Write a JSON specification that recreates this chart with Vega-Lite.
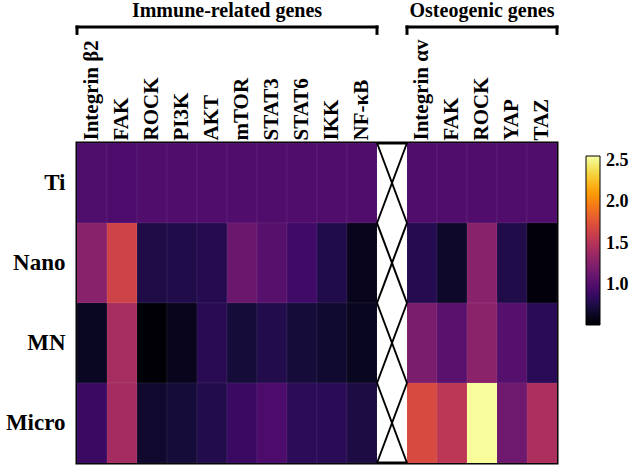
{
  "$schema": "https://vega.github.io/schema/vega-lite/v6.json",
  "width": 480,
  "height": 320,
  "autosize": {"type": "none"},
  "padding": {"left": 77, "top": 143, "right": 76, "bottom": 5},
  "background": "white",
  "config": {
    "view": {"stroke": "black", "strokeWidth": 3},
    "font": "Times New Roman, Liberation Serif, Times, serif"
  },
  "datasets": {
    "cells": [
      {"row": "Ti", "gene": "Integrin β2|i", "value": 0.99},
      {"row": "Ti", "gene": "FAK|i", "value": 0.98},
      {"row": "Ti", "gene": "ROCK|i", "value": 1.0},
      {"row": "Ti", "gene": "PI3K|i", "value": 1.0},
      {"row": "Ti", "gene": "AKT|i", "value": 1.0},
      {"row": "Ti", "gene": "mTOR|i", "value": 1.0},
      {"row": "Ti", "gene": "STAT3|i", "value": 1.0},
      {"row": "Ti", "gene": "STAT6|i", "value": 1.0},
      {"row": "Ti", "gene": "IKK|i", "value": 1.0},
      {"row": "Ti", "gene": "NF-κB|i", "value": 1.0},
      {"row": "Ti", "gene": "Integrin αv|o", "value": 1.0},
      {"row": "Ti", "gene": "FAK|o", "value": 1.0},
      {"row": "Ti", "gene": "ROCK|o", "value": 1.0},
      {"row": "Ti", "gene": "YAP|o", "value": 1.0},
      {"row": "Ti", "gene": "TAZ|o", "value": 1.0},

      {"row": "Nano", "gene": "Integrin β2|i", "value": 1.28},
      {"row": "Nano", "gene": "FAK|i", "value": 1.65},
      {"row": "Nano", "gene": "ROCK|i", "value": 0.765},
      {"row": "Nano", "gene": "PI3K|i", "value": 0.77},
      {"row": "Nano", "gene": "AKT|i", "value": 0.795},
      {"row": "Nano", "gene": "mTOR|i", "value": 1.13},
      {"row": "Nano", "gene": "STAT3|i", "value": 1.04},
      {"row": "Nano", "gene": "STAT6|i", "value": 0.92},
      {"row": "Nano", "gene": "IKK|i", "value": 0.77},
      {"row": "Nano", "gene": "NF-κB|i", "value": 0.62},
      {"row": "Nano", "gene": "Integrin αv|o", "value": 0.795},
      {"row": "Nano", "gene": "FAK|o", "value": 0.67},
      {"row": "Nano", "gene": "ROCK|o", "value": 1.28},
      {"row": "Nano", "gene": "YAP|o", "value": 0.77},
      {"row": "Nano", "gene": "TAZ|o", "value": 0.55},

      {"row": "MN", "gene": "Integrin β2|i", "value": 0.64},
      {"row": "MN", "gene": "FAK|i", "value": 1.43},
      {"row": "MN", "gene": "ROCK|i", "value": 0.53},
      {"row": "MN", "gene": "PI3K|i", "value": 0.62},
      {"row": "MN", "gene": "AKT|i", "value": 0.81},
      {"row": "MN", "gene": "mTOR|i", "value": 0.72},
      {"row": "MN", "gene": "STAT3|i", "value": 0.78},
      {"row": "MN", "gene": "STAT6|i", "value": 0.72},
      {"row": "MN", "gene": "IKK|i", "value": 0.69},
      {"row": "MN", "gene": "NF-κB|i", "value": 0.63},
      {"row": "MN", "gene": "Integrin αv|o", "value": 1.21},
      {"row": "MN", "gene": "FAK|o", "value": 1.05},
      {"row": "MN", "gene": "ROCK|o", "value": 1.29},
      {"row": "MN", "gene": "YAP|o", "value": 1.02},
      {"row": "MN", "gene": "TAZ|o", "value": 0.82},

      {"row": "Micro", "gene": "Integrin β2|i", "value": 0.89},
      {"row": "Micro", "gene": "FAK|i", "value": 1.42},
      {"row": "Micro", "gene": "ROCK|i", "value": 0.68},
      {"row": "Micro", "gene": "PI3K|i", "value": 0.72},
      {"row": "Micro", "gene": "AKT|i", "value": 0.78},
      {"row": "Micro", "gene": "mTOR|i", "value": 0.89},
      {"row": "Micro", "gene": "STAT3|i", "value": 0.98},
      {"row": "Micro", "gene": "STAT6|i", "value": 0.83},
      {"row": "Micro", "gene": "IKK|i", "value": 0.82},
      {"row": "Micro", "gene": "NF-κB|i", "value": 0.75},
      {"row": "Micro", "gene": "Integrin αv|o", "value": 1.7},
      {"row": "Micro", "gene": "FAK|o", "value": 1.54},
      {"row": "Micro", "gene": "ROCK|o", "value": 2.54},
      {"row": "Micro", "gene": "YAP|o", "value": 1.15},
      {"row": "Micro", "gene": "TAZ|o", "value": 1.46}
    ],
    "gap": [
      {"row": "Ti", "gene": "gap"},
      {"row": "Nano", "gene": "gap"},
      {"row": "MN", "gene": "gap"},
      {"row": "Micro", "gene": "gap"}
    ],
    "groups": [
      {"group": "Immune-related genes", "gene": "Integrin β2|i", "last": "NF-κB|i", "mid": "mTOR|i"},
      {"group": "Osteogenic genes", "gene": "Integrin αv|o", "last": "TAZ|o", "mid": "ROCK|o"}
    ]
  },
  "layer": [
    {
      "layer": [
        {
          "data": {"name": "cells"},
          "mark": {"type": "rect", "stroke": "#ffffff", "strokeWidth": 0.5, "strokeOpacity": 0.12},
          "encoding": {
            "x": {
              "field": "gene", "type": "nominal", "sort": null,
              "scale": {"domain": ["Integrin β2|i","FAK|i","ROCK|i","PI3K|i","AKT|i","mTOR|i","STAT3|i","STAT6|i","IKK|i","NF-κB|i","gap","Integrin αv|o","FAK|o","ROCK|o","YAP|o","TAZ|o"], "paddingInner": 0, "paddingOuter": 0},
              "axis": {
                "orient": "top", "title": null, "labelAngle": -90, "ticks": false, "domain": false,
                "labelExpr": "datum.value == 'gap' ? '' : split(datum.value, '|')[0]",
                "labelFont": "Times New Roman, Liberation Serif, Times, serif", "labelFontWeight": "bold", "labelFontSize": 21,
                "labelColor": "black", "labelPadding": 3, "labelLimit": 200
              }
            },
            "y": {
              "field": "row", "type": "nominal", "sort": null,
              "scale": {"domain": ["Ti", "Nano", "MN", "Micro"], "paddingInner": 0, "paddingOuter": 0},
              "axis": {
                "title": null, "ticks": false, "domain": false, "labelFont": "Times New Roman, Liberation Serif, Times, serif",
                "labelFontWeight": "bold", "labelFontSize": 23, "labelColor": "black", "labelPadding": 12
              }
            },
            "color": {
              "field": "value", "type": "quantitative",
              "scale": {"scheme": "inferno", "domain": [0.52, 2.56]},
              "legend": {
                "orient": "none", "legendX": 509, "legendY": 13, "direction": "vertical",
                "gradientLength": 169, "gradientThickness": 14, "title": null,
                "values": [1, 1.5, 2, 2.5], "format": ".1f",
                "labelFont": "Times New Roman, Liberation Serif, Times, serif", "labelFontWeight": "bold", "labelFontSize": 18,
                "labelColor": "black", "labelOffset": 6,
                "gradientStrokeColor": "black", "gradientStrokeWidth": 1
              }
            }
          }
        },
        {
          "data": {"name": "gap"},
          "mark": {"type": "rule", "color": "black", "strokeWidth": 2},
          "encoding": {
            "x": {"field": "gene", "type": "nominal", "bandPosition": 0},
            "x2": {"field": "gene", "bandPosition": 1},
            "y": {"field": "row", "type": "nominal", "bandPosition": 0},
            "y2": {"field": "row", "bandPosition": 1}
          }
        },
        {
          "data": {"name": "gap"},
          "mark": {"type": "rule", "color": "black", "strokeWidth": 2},
          "encoding": {
            "x": {"field": "gene", "type": "nominal", "bandPosition": 0},
            "x2": {"field": "gene", "bandPosition": 1},
            "y": {"field": "row", "type": "nominal", "bandPosition": 1},
            "y2": {"field": "row", "bandPosition": 0}
          }
        }
      ]
    },
    {
      "data": {"name": "groups"},
      "layer": [
        {
          "mark": {"type": "rule", "color": "black", "strokeWidth": 3, "strokeCap": "square"},
          "encoding": {
            "x": {"field": "gene", "type": "nominal", "bandPosition": 0},
            "x2": {"field": "last", "bandPosition": 1},
            "y": {"datum": 5.45, "type": "quantitative", "scale": {"domain": [0, 4], "nice": false, "zero": false}, "axis": null}
          }
        },
        {
          "mark": {"type": "rule", "color": "black", "strokeWidth": 3, "strokeCap": "square"},
          "encoding": {
            "x": {"field": "gene", "type": "nominal", "bandPosition": 0},
            "y": {"datum": 5.45, "type": "quantitative", "scale": {"domain": [0, 4], "nice": false, "zero": false}, "axis": null},
            "y2": {"datum": 5.37}
          }
        },
        {
          "mark": {"type": "rule", "color": "black", "strokeWidth": 3, "strokeCap": "square"},
          "encoding": {
            "x": {"field": "last", "type": "nominal", "bandPosition": 1, "title": null},
            "y": {"datum": 5.45, "type": "quantitative", "scale": {"domain": [0, 4], "nice": false, "zero": false}, "axis": null},
            "y2": {"datum": 5.37}
          }
        },
        {
          "transform": [{"filter": "datum.group == 'Immune-related genes'"}],
          "mark": {"type": "text", "font": "Times New Roman, Liberation Serif, Times, serif", "fontWeight": "bold", "fontSize": 20, "color": "black", "baseline": "alphabetic", "align": "center"},
          "encoding": {
            "x": {"field": "mid", "type": "nominal", "bandPosition": 0, "title": null},
            "y": {"datum": 5.575, "type": "quantitative", "scale": {"domain": [0, 4], "nice": false, "zero": false}, "axis": null},
            "text": {"field": "group"}
          }
        },
        {
          "transform": [{"filter": "datum.group == 'Osteogenic genes'"}],
          "mark": {"type": "text", "font": "Times New Roman, Liberation Serif, Times, serif", "fontWeight": "bold", "fontSize": 20, "color": "black", "baseline": "alphabetic", "align": "center"},
          "encoding": {
            "x": {"field": "mid", "type": "nominal", "bandPosition": 0.5, "title": null},
            "y": {"datum": 5.575, "type": "quantitative", "scale": {"domain": [0, 4], "nice": false, "zero": false}, "axis": null},
            "text": {"field": "group"}
          }
        }
      ]
    }
  ],
  "resolve": {"scale": {"y": "independent"}, "axis": {"y": "independent"}}
}
